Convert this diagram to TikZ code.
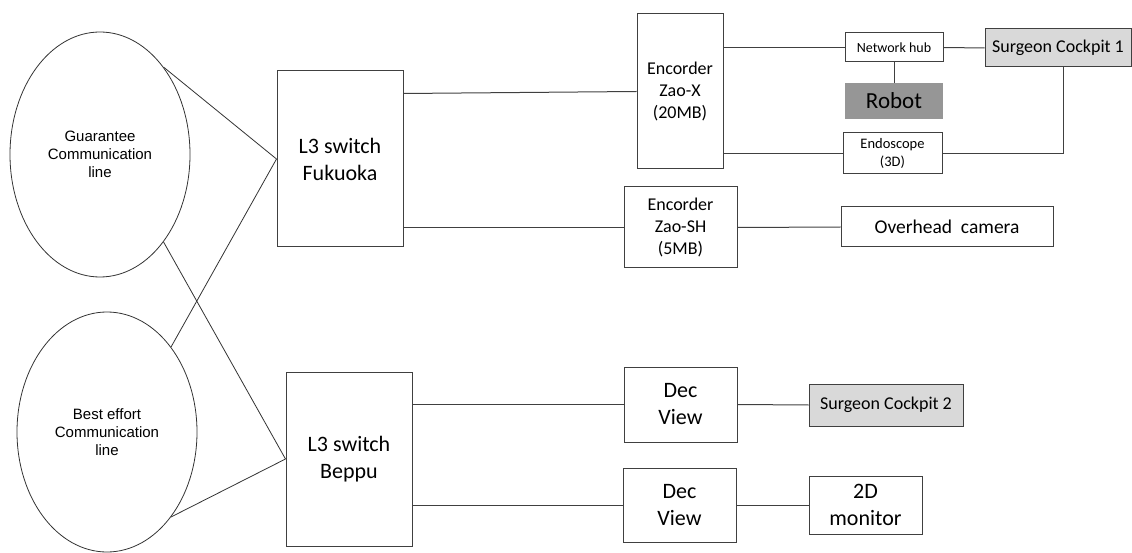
\documentclass[tikz,border=0pt]{standalone}
\usepackage{fontspec}
\setmainfont{Carlito}
\newfontfamily\arialfont{Liberation Sans}
\usetikzlibrary{shapes.geometric}
\definecolor{linegray}{RGB}{64,64,64}
\definecolor{cockpitgray}{RGB}{217,217,217}
\definecolor{robotgray}{RGB}{150,150,150}

\begin{document}
\begin{tikzpicture}[x=1pt, y=-1pt,
  box/.style={draw=linegray, line width=1pt, inner sep=0pt, align=center},
  oval/.style={ellipse, draw=black!80, line width=0.8pt, inner sep=0pt, align=center,
               minimum width=180pt, font=\arialfont\fontsize{15}{18}\selectfont},
  txtbig/.style={font=\fontsize{22}{27}\selectfont},
  txtmid/.style={font=\fontsize{18}{22}\selectfont},
  txtsmall/.style={font=\fontsize{14.5}{18}\selectfont},
  link/.style={draw=linegray, line width=1pt}
]
  \useasboundingbox (0,0) rectangle (1132,553);

  \node[oval, minimum height=245pt] (guar) at (100,154.5) {Guarantee\\Communication\\line};
  \node[oval, minimum height=240pt] (best) at (107,432)   {Best effort\\Communication\\line};

  \node[box, txtbig, minimum width=126pt, minimum height=176pt] (fukuoka) at (340,159) {L3 switch\\Fukuoka};
  \node[box, txtbig, minimum width=126pt, minimum height=174pt] (beppu)   at (349,459) {L3 switch\\Beppu};

  \node[box, txtmid, minimum width=86pt,  minimum height=155pt] (zaox)  at (680,91.5)  {Encorder\\Zao-X\\(20MB)};
  \node[box, txtmid, minimum width=113pt, minimum height=81pt]  (zaosh) at (680.5,227.5) {Encorder\\Zao-SH\\(5MB)};

  \node[box, font=\fontsize{14}{17}\selectfont, minimum width=98pt, minimum height=29pt] (hub) at (894,47.5) {Network hub};
  \node[fill=robotgray, font=\fontsize{23}{28}\selectfont, inner sep=0pt,
        minimum width=98pt, minimum height=36pt] (robot) at (894,101) {Robot};
  \node[box, txtsmall, minimum width=99pt, minimum height=41pt] (endo) at (892.5,153.5) {Endoscope\\(3D)};
  \node[box, txtmid, fill=cockpitgray, minimum width=146pt, minimum height=38pt] (cockpit1) at (1058,48) {Surgeon Cockpit 1};
  \node[box, font=\fontsize{19.5}{24}\selectfont, minimum width=212pt, minimum height=40pt] (overhead) at (947,227) {Overhead\ \ camera};

  \node[box, txtbig, minimum width=113pt, minimum height=75pt] (dec1) at (680.5,404.5) {Dec\\View};
  \node[box, txtbig, minimum width=113pt, minimum height=74pt] (dec2) at (679.5,505)   {Dec\\View};
  \node[box, txtmid, fill=cockpitgray, minimum width=154pt, minimum height=42pt] (cockpit2) at (886,405) {Surgeon Cockpit 2};
  \node[box, txtbig, minimum width=113pt, minimum height=58pt] (monitor) at (865.5,505) {2D\\monitor};

  % communication lines
  \draw[black!80, line width=0.8pt] (guar.54)  -- (fukuoka.west);
  \draw[black!80, line width=0.8pt] (best.53)  -- (fukuoka.west);
  \draw[black!80, line width=0.8pt] (guar.-54) -- (beppu.west);
  \draw[black!80, line width=0.8pt] (best.-53) -- (beppu.west);

  % Fukuoka side
  \draw[link] (fukuoka.north east) ++(0,23) -- (zaox.west);
  \draw[link] (fukuoka.east |- zaosh.west) -- (zaosh.west);
  \draw[link] (zaosh.east) -- (overhead.west);
  \draw[link] (zaox.east |- hub.west) -- (hub.west);
  \draw[link] (hub.east) -- (cockpit1.west);
  \draw[link] (hub.south) -- (robot.north);
  \draw[link] (zaox.east |- endo.west) -- (endo.west);
  \draw[link] (endo.east) -| ([xshift=5pt]cockpit1.south);

  % Beppu side
  \draw[link] (beppu.east |- dec1.west) -- (dec1.west);
  \draw[link] (beppu.east |- dec2.west) -- (dec2.west);
  \draw[link] (dec1.east) -- (cockpit2.west);
  \draw[link] (dec2.east) -- (monitor.west);
\end{tikzpicture}
\end{document}
